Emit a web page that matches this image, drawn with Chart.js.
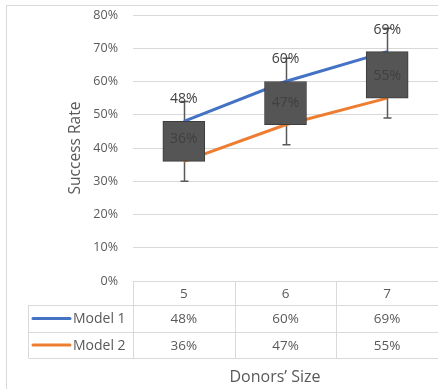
<!DOCTYPE html>
<html>
<head>
<meta charset="utf-8">
<script src="https://cdn.jsdelivr.net/npm/chart.js@4.4.0/dist/chart.umd.min.js"></script>
<style>
  html, body { margin: 0; padding: 0; background: #fff; }
</style>
</head>
<body>
<canvas id="grafico" width="438" height="389"></canvas>
<script>
// ==========dados=============
const categorias = ["5", "6", "7"];
const modelo1 = [48, 60, 69];
const modelo2 = [36, 47, 55];
const maximos = [54, 67, 76];
const minimos = [30, 41, 49];
const nomesSeries = ["Model 1", "Model 2"];
const coresSeries = ["#4472C4", "#ED7D31"];

const fonte = "'Open Sans', 'Noto Sans', sans-serif";
const corTexto = "#595959";
const corGrade = "#d9d9d9";

// ==========moldura=============
const moldura = {
  id: "moldura",
  beforeDraw(chart) {
    const ctx = chart.ctx;
    ctx.save();
    ctx.fillStyle = "#fff";
    ctx.fillRect(0, 0, chart.width, chart.height);
    ctx.strokeStyle = corGrade;
    ctx.lineWidth = 1;
    ctx.strokeRect(6.5, 5.5, chart.width + 10, chart.height - 4);
    ctx.restore();
  },
};

// ==========barras de erro (maximo / minimo)=============
const barrasErro = {
  id: "barrasErro",
  beforeDatasetsDraw(chart) {
    const ctx = chart.ctx;
    const x = chart.scales.x;
    const y = chart.scales.y;
    ctx.save();
    ctx.strokeStyle = "#595959";
    ctx.lineWidth = 1.5;
    for (let i = 0; i < categorias.length; i++) {
      const px = Math.round(x.getPixelForValue(i)) + 0.5;
      const yAlto = y.getPixelForValue(maximos[i]);
      const yBaixo = y.getPixelForValue(minimos[i]);
      ctx.beginPath();
      ctx.moveTo(px, yAlto);
      ctx.lineTo(px, yBaixo);
      ctx.moveTo(px - 4, yAlto);
      ctx.lineTo(px + 4, yAlto);
      ctx.moveTo(px - 4, yBaixo);
      ctx.lineTo(px + 4, yBaixo);
      ctx.stroke();
    }
    ctx.restore();
  },
};

// ==========rotulos=============
const rotulos = {
  id: "rotulos",
  afterDatasetsDraw(chart) {
    const ctx = chart.ctx;
    ctx.save();
    ctx.font = "14px " + fonte;
    ctx.fillStyle = "#404040";
    ctx.textAlign = "center";
    ctx.textBaseline = "middle";
    [0, 1].forEach((d) => {
      const meta = chart.getDatasetMeta(d);
      const valores = d === 0 ? modelo1 : modelo2;
      meta.data.forEach((p, i) => {
        ctx.fillText(valores[i] + "%", p.x, p.y - 22);
      });
    });
    ctx.restore();
  },
};

// ==========tabela de dados=============
const tabela = {
  id: "tabela",
  afterDraw(chart) {
    const ctx = chart.ctx;
    const area = chart.chartArea;
    const x = chart.scales.x;
    const topo = area.bottom;
    const linhas = [topo, topo + 24, topo + 51, topo + 77];
    const esquerdaLegenda = 28.5;
    const direita = chart.width + 5;

    const divisoes = [area.left];
    for (let i = 0; i < categorias.length - 1; i++) {
      divisoes.push((x.getPixelForValue(i) + x.getPixelForValue(i + 1)) / 2);
    }

    ctx.save();
    ctx.strokeStyle = corGrade;
    ctx.lineWidth = 1;
    ctx.beginPath();
    ctx.moveTo(area.left, Math.round(linhas[0]) + 0.5);
    ctx.lineTo(direita, Math.round(linhas[0]) + 0.5);
    for (let r = 1; r < linhas.length; r++) {
      ctx.moveTo(esquerdaLegenda, Math.round(linhas[r]) + 0.5);
      ctx.lineTo(direita, Math.round(linhas[r]) + 0.5);
    }
    divisoes.forEach((dx) => {
      ctx.moveTo(Math.round(dx) + 0.5, linhas[0]);
      ctx.lineTo(Math.round(dx) + 0.5, linhas[3]);
    });
    ctx.moveTo(esquerdaLegenda, linhas[1]);
    ctx.lineTo(esquerdaLegenda, linhas[3]);
    ctx.stroke();

    ctx.font = "13.5px " + fonte;
    ctx.fillStyle = corTexto;
    ctx.textAlign = "center";
    ctx.textBaseline = "middle";
    const series = [modelo1, modelo2];
    for (let i = 0; i < categorias.length; i++) {
      const px = x.getPixelForValue(i);
      ctx.fillText(categorias[i], px, (linhas[0] + linhas[1]) / 2 + 1);
      series.forEach((s, k) => {
        ctx.fillText(s[i] + "%", px, (linhas[k + 1] + linhas[k + 2]) / 2 + 1);
      });
    }

    ctx.textAlign = "left";
    ctx.font = "14px " + fonte;
    nomesSeries.forEach((nome, k) => {
      const cy = (linhas[k + 1] + linhas[k + 2]) / 2;
      ctx.strokeStyle = coresSeries[k];
      ctx.lineWidth = 3;
      ctx.lineCap = "round";
      ctx.beginPath();
      ctx.moveTo(33, cy);
      ctx.lineTo(70, cy);
      ctx.stroke();
      ctx.fillText(nome, 73, cy + 1);
    });

    ctx.font = "16px " + fonte;
    ctx.textAlign = "center";
    ctx.fillText("Donors\u2019 Size", 275, 377);
    ctx.restore();
  },
};

// ==========grafico=============
function plotarGrafico(idGrafico) {
  const ctx = document.getElementById(idGrafico).getContext("2d");
  new Chart(ctx, {
    type: "bar",
    data: {
      labels: categorias,
      datasets: [
        {
          type: "line",
          label: nomesSeries[0],
          data: modelo1,
          borderColor: coresSeries[0],
          borderWidth: 3,
          pointRadius: 0,
          order: 3,
        },
        {
          type: "line",
          label: nomesSeries[1],
          data: modelo2,
          borderColor: coresSeries[1],
          borderWidth: 3,
          pointRadius: 0,
          order: 2,
        },
        {
          type: "bar",
          label: "Up/Down",
          data: modelo2.map((v, i) => [v, modelo1[i]]),
          backgroundColor: "#555555",
          borderColor: "#3d3d3d",
          borderWidth: 1,
          borderSkipped: false,
          barThickness: 42,
          order: 1,
        },
      ],
    },
    options: {
      responsive: false,
      animation: false,
      devicePixelRatio: 1,
      layout: {
        padding: { left: 62, top: 15, right: -3, bottom: 108 },
      },
      plugins: {
        legend: { display: false },
        tooltip: { enabled: false },
      },
      scales: {
        x: {
          display: false,
          offset: true,
        },
        y: {
          min: 0,
          max: 80,
          ticks: {
            stepSize: 10,
            padding: 0,
            color: corTexto,
            font: { family: fonte, size: 12.5 },
            callback: (v) => v + "%",
          },
          grid: {
            color: corGrade,
            drawTicks: true,
            tickLength: 15,
            tickColor: "rgba(0,0,0,0)",
          },
          border: { display: false },
          title: {
            display: true,
            text: "Success Rate",
            color: corTexto,
            font: { family: fonte, size: 15.5 },
          },
          afterFit: (scale) => {
            scale.width = 71;
          },
        },
      },
    },
    plugins: [moldura, barrasErro, rotulos, tabela],
  });
}

plotarGrafico("grafico");
</script>
</body>
</html>
